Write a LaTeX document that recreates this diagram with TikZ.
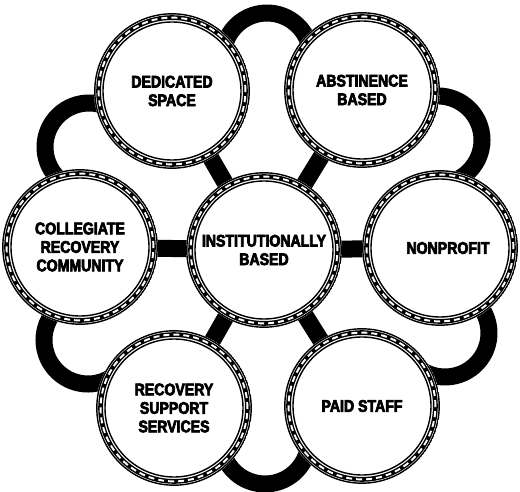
\documentclass[tikz,border=0pt]{standalone}
\usepackage{fontspec}
\newfontfamily\hubfont{Liberation Sans Bold}[FakeStretch=0.84,FakeBold=4]
\usetikzlibrary{backgrounds}

\tikzset{
  ring/.style={circle, fill=white, minimum size=156pt, inner sep=0pt, align=center,
    font=\hubfont\fontsize{16.8}{18.5}\selectfont,
    path picture={
      \coordinate (pc) at (path picture bounding box.center);
      \draw[line width=1.4pt] (pc) circle[radius=77.2pt];
      \draw[line width=4.8pt] (pc) circle[radius=73.4pt];
      \draw[white, line width=1.9pt, dash pattern=on 6pt off 4pt] (pc) circle[radius=73.4pt];
      \draw[line width=1.4pt] (pc) circle[radius=69pt];
    }},
  spoke/.style={line width=17pt},
  linkarc/.style={line width=17pt},
}

\begin{document}
\begin{tikzpicture}[x=1pt,y=1pt]
  \useasboundingbox (0,0) rectangle (520,491);
  \node[ring] (inst) at (264,241) {INSTITUTIONALLY\\BASED};
  \node[ring] (ded) at (172,400) {DEDICATED\\SPACE};
  \node[ring] (abs) at (362,401) {ABSTINENCE\\BASED};
  \node[ring] (col) at (80,244) {COLLEGIATE\\RECOVERY\\COMMUNITY};
  \node[ring] (non) at (440,243) {\hspace*{16pt}NONPROFIT};
  \node[ring] (rss) at (174,83) {RECOVERY\\SUPPORT\\SERVICES};
  \node[ring] (paid) at (362,85) {PAID STAFF};
  % loop centres
  \coordinate (lt) at (267,434);
  \coordinate (ltr) at (438,351);
  \coordinate (lbr) at (445,158);
  \coordinate (lb) at (265,51);
  \coordinate (lbl) at (88,151);
  \coordinate (ltl) at (89,344);
  \begin{scope}[on background layer]
    \draw[spoke] (inst.center) -- (ded.center) (inst.center) -- (abs.center)
      (inst.center) -- (col.center) (inst.center) -- (non.center)
      (inst.center) -- (rss.center) (inst.center) -- (paid.center);
    \draw[linkarc] ([shift={(-15:44)}]lt) arc[start angle=-15, end angle=195, radius=44];
    \draw[linkarc] ([shift={(-73:44)}]ltr) arc[start angle=-73, end angle=137, radius=44];
    \draw[linkarc] ([shift={(-133:44)}]lbr) arc[start angle=-133, end angle=77, radius=44];
    \draw[linkarc] ([shift={(-195:44)}]lb) arc[start angle=-195, end angle=15, radius=44];
    \draw[linkarc] ([shift={(102:44)}]lbl) arc[start angle=102, end angle=312, radius=44];
    \draw[linkarc] ([shift={(44:44)}]ltl) arc[start angle=44, end angle=254, radius=44];
  \end{scope}
\end{tikzpicture}
\end{document}
